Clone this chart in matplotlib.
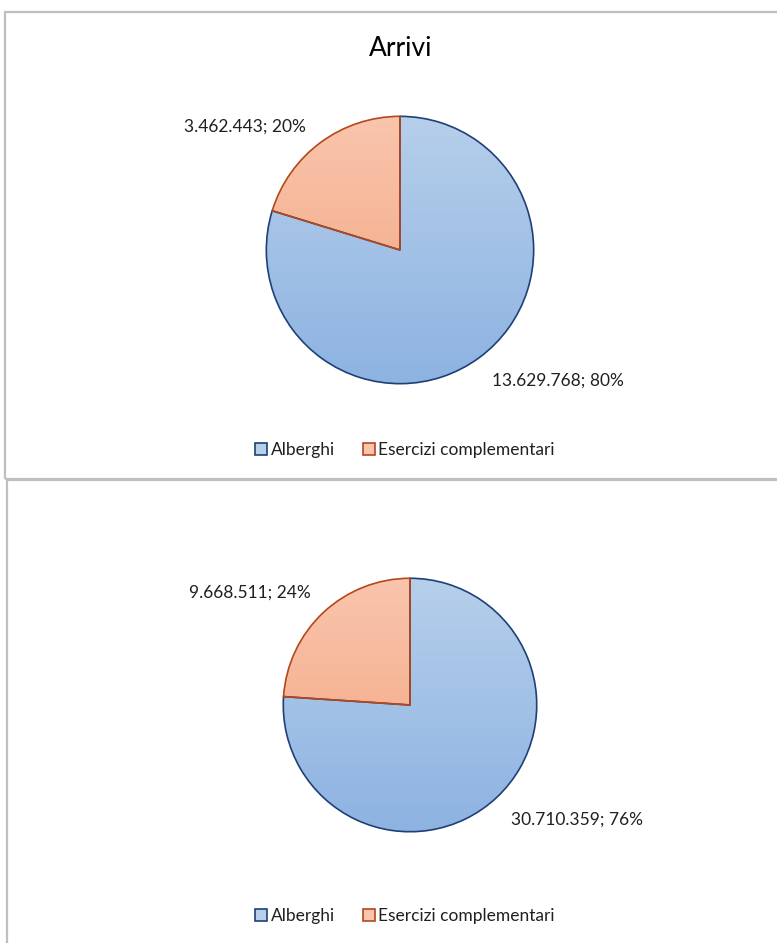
import numpy as np
import matplotlib
matplotlib.use("Agg")
import matplotlib.pyplot as plt
from matplotlib.patches import Rectangle, Patch
from matplotlib.colors import LinearSegmentedColormap

plt.rcParams["font.family"] = ["Lato", "DejaVu Sans"]

# dati
categorie = ["Alberghi", "Esercizi complementari"]
arrivi = [13629768, 3462443]
presenze = [30710359, 9668511]
titolo = "Arrivi"

colori_chiari = ["#b6cfeb", "#f9c5ad"]
colori_scuri = ["#8db3e1", "#f3a27c"]
bordi = ["#1f3f78", "#b5471b"]

W, H = 777, 943
fig = plt.figure(figsize=(W / 100, H / 100), dpi=100)


def fx(x):
    return x / W


def fy(y):
    return 1 - y / H


# cornici dei due grafici
fig.patches.append(Rectangle((fx(5), fy(479)), fx(800), 467 / H, transform=fig.transFigure,
                             fill=False, edgecolor="#bfbfbf", linewidth=1.6))
fig.patches.append(Rectangle((fx(7), fy(960)), fx(800), 480 / H, transform=fig.transFigure,
                             fill=False, edgecolor="#bfbfbf", linewidth=1.6))


def torta(valori, cx, cy, r, pos_etichette, y_legenda, titolo=None):
    ax = fig.add_axes([fx(cx - r), fy(cy + r), 2 * r / W, 2 * r / H])
    wedges, _ = ax.pie(valori, startangle=90, counterclock=False, radius=1,
                       wedgeprops=dict(facecolor="none", linewidth=1.2))
    grad = np.linspace(0, 1, 256).reshape(-1, 1)
    for i, w in enumerate(wedges):
        w.set_edgecolor(bordi[i])
        w.set_zorder(3)
        cmap = LinearSegmentedColormap.from_list("g", [colori_chiari[i], colori_scuri[i]])
        im = ax.imshow(grad, extent=(-1, 1, -1, 1), cmap=cmap, aspect="auto",
                       origin="upper", zorder=2)
        im.set_clip_path(w)
    ax.set_xlim(-1.01, 1.01)
    ax.set_ylim(-1.01, 1.01)
    ax.axis("off")

    tot = sum(valori)
    for v, (lx, ly) in zip(valori, pos_etichette):
        testo = f"{v:,}".replace(",", ".") + f"; {v / tot * 100:.0f}%"
        fig.text(fx(lx), fy(ly), testo, ha="center", va="center",
                 fontsize=12.5, color="#202020")

    if titolo:
        fig.text(fx(401), fy(48), titolo, ha="center", va="center",
                 fontsize=19, color="#000000")

    handles = [Patch(facecolor=colori_chiari[i], edgecolor=bordi[i], linewidth=1.2)
               for i in range(len(categorie))]
    fig.legend(handles, categorie, loc="center", bbox_to_anchor=(fx(405), fy(y_legenda)),
               ncol=2, frameon=False, fontsize=12.5, handlelength=0.7, handleheight=0.7,
               handletextpad=0.2, columnspacing=1.6, labelcolor="#202020")


torta(arrivi, 400, 250, 135, [(558, 381), (245, 127)], 450, titolo)
torta(presenze, 410, 705, 128, [(577, 820), (250, 593)], 916)

fig.savefig("out.png", dpi=100)
